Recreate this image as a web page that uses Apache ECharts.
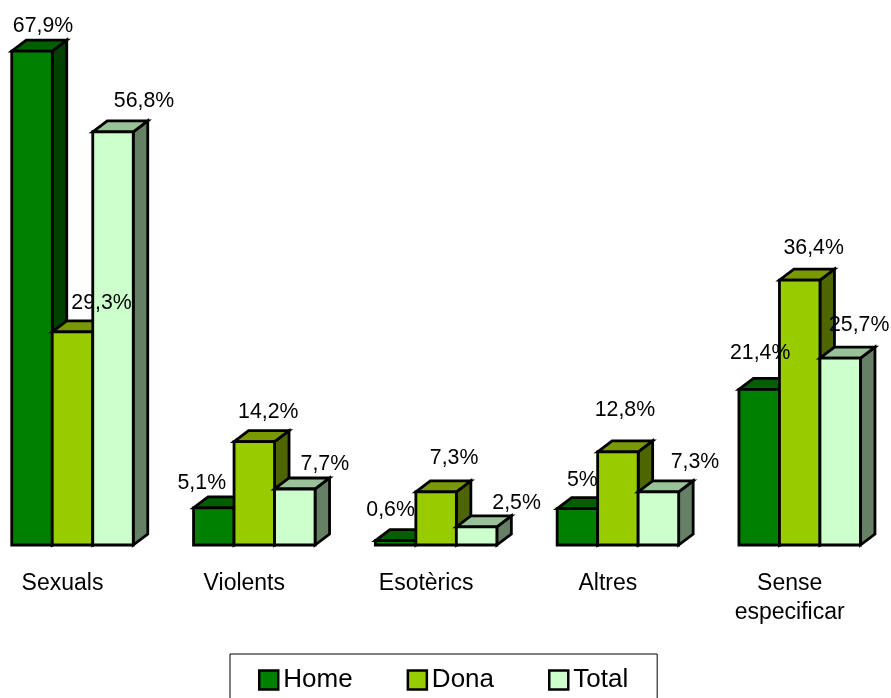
<!DOCTYPE html>
<html>
<head>
<meta charset="utf-8">
<style>html,body{margin:0;padding:0;background:#fff}#c{width:891px;height:698px}</style>
<script src="https://cdn.jsdelivr.net/npm/echarts@6/dist/echarts.min.js"></script>
</head>
<body>
<div id="c"></div>
<script>
const categories = ['Sexuals', 'Violents', 'Esotèrics', 'Altres', 'Sense\nespecificar'];
const home = [67.9, 5.1, 0.6, 5, 21.4];
const dona = [29.3, 14.2, 7.3, 12.8, 36.4];
const total = [56.8, 7.7, 2.5, 7.3, 25.7];

// Hand placed label offsets (pixels from the bar's front-top centre), as in the reference
const homeLabelOffsets = [[11, -24.5], [-12, -24.5], [-5, -30.5], [5, -28.5], [1, -36.5]];
const donaLabelOffsets = [[29, -28.5], [14, -29.5], [18, -33.5], [7, -41.5], [14, -32.5]];
const totalLabelOffsets = [[31, -30.5], [30, -24.5], [40, -23.5], [36.5, -29.5], [19, -32.5]];

const FONT = '"Liberation Sans", Arial, sans-serif';
const BAR_RATIO = 0.2228, DX = 14.5, DY = -11, STROKE = 2.8;

function fmt(v) { return String(v).replace('.', ',') + '%'; }

function makeSeries(name, values, pos, colors, offsets) {
  return {
    name, type: 'custom', coordinateSystem: 'cartesian2d',
    itemStyle: { color: colors[0] },
    data: values.map((v, i) => [i, v]),
    clip: false,
    renderItem(params, api) {
      const i = api.value(0), v = api.value(1);
      const top = api.coord([i, v]), base = api.coord([i, 0]);
      const w = api.size([1, 0])[0] * BAR_RATIO;
      const x0 = top[0] + (pos - 0.5) * w, x1 = x0 + w;
      const yt = top[1], yb = base[1];
      const line = { stroke: '#000', lineWidth: STROKE, lineJoin: 'miter' };
      const poly = (points, fill) => ({ type: 'polygon', shape: { points }, style: { fill, ...line } });
      return {
        type: 'group',
        children: [
          poly([[x1, yt], [x1 + DX, yt + DY], [x1 + DX, yb + DY], [x1, yb]], colors[2]),
          poly([[x0, yt], [x0 + DX, yt + DY], [x1 + DX, yt + DY], [x1, yt]], colors[1]),
          { type: 'rect', shape: { x: x0, y: yt, width: w, height: yb - yt }, style: { fill: colors[0], ...line } },
          { type: 'text', z2: 100, silent: true,
            style: { x: top[0] + pos * w + offsets[i][0], y: yt + offsets[i][1], text: fmt(v),
              fill: '#000', font: '21.3px ' + FONT, align: 'center', verticalAlign: 'middle' } }
        ]
      };
    }
  };
}

const chart = echarts.init(document.getElementById('c'), null, { renderer: 'canvas' });
chart.setOption({
  animation: false,
  backgroundColor: '#fff',
  grid: { left: -18.4, width: 909, top: 35.75, height: 509.25, outerBoundsMode: 'none' },
  xAxis: {
    type: 'category', data: categories,
    axisLine: { show: false }, axisTick: { show: false }, splitLine: { show: false },
    axisLabel: { interval: 0, margin: 24, fontSize: 23, lineHeight: 29, color: '#000',
      fontFamily: FONT, padding: [0, 20, 0, 0], hideOverlap: false }
  },
  yAxis: { type: 'value', min: 0, max: 70, show: false },
  legend: {
    left: 230, top: 654, orient: 'horizontal', icon: 'rect',
    itemWidth: 19, itemHeight: 19, itemGap: 54,
    padding: [13, 29, 14, 28],
    backgroundColor: '#fff', borderColor: '#000', borderWidth: 1,
    textStyle: { fontSize: 26, fontFamily: FONT, color: '#000' },
    data: [
      { name: 'Home', icon: 'rect', itemStyle: { color: '#008000', borderColor: '#000', borderWidth: 2.5 } },
      { name: 'Dona', icon: 'rect', itemStyle: { color: '#99cc00', borderColor: '#000', borderWidth: 2.5 } },
      { name: 'Total', icon: 'rect', itemStyle: { color: '#ccffcc', borderColor: '#000', borderWidth: 2.5 } }
    ]
  },
  series: [
    makeSeries('Home', home, -1, ['#008000', '#006000', '#004000'], homeLabelOffsets),
    makeSeries('Dona', dona, 0, ['#99cc00', '#7a9900', '#4d6600'], donaLabelOffsets),
    makeSeries('Total', total, 1, ['#ccffcc', '#99c299', '#668066'], totalLabelOffsets)
  ]
});
</script>
</body>
</html>
